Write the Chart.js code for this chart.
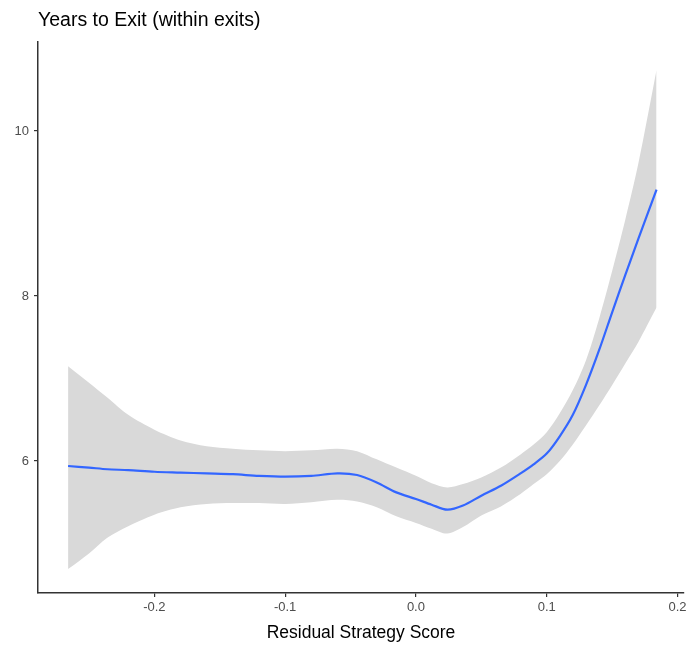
<!DOCTYPE html>
<html>
<head>
<meta charset="utf-8">
<script src="https://cdn.jsdelivr.net/npm/chart.js@4"></script>
<style>
  html, body { margin: 0; padding: 0; background: #fff; }
  #wrap { width: 692px; height: 646px; }
</style>
</head>
<body>
<div id="wrap"><canvas id="exitChart"></canvas></div>
<script>
// residual strategy score (x) and the loess fit with its 95% band
const scores = [-0.266, -0.25, -0.236, -0.22, -0.2, -0.18, -0.16, -0.14, -0.12, -0.10, -0.08, -0.06, -0.045, -0.03, -0.015, 0.0, 0.012, 0.024, 0.036, 0.05, 0.065, 0.08, 0.09, 0.10, 0.11, 0.12, 0.13, 0.14, 0.15, 0.16, 0.17, 0.184];
const fitYears = [5.94, 5.92, 5.90, 5.89, 5.87, 5.86, 5.85, 5.84, 5.82, 5.81, 5.82, 5.85, 5.83, 5.74, 5.62, 5.54, 5.47, 5.41, 5.46, 5.58, 5.70, 5.85, 5.96, 6.09, 6.30, 6.56, 6.92, 7.34, 7.80, 8.25, 8.69, 9.29];
const upperYears = [7.15, 6.95, 6.77, 6.56, 6.38, 6.25, 6.18, 6.15, 6.13, 6.12, 6.13, 6.15, 6.12, 6.02, 5.92, 5.82, 5.73, 5.68, 5.72, 5.80, 5.92, 6.08, 6.20, 6.35, 6.58, 6.86, 7.22, 7.72, 8.30, 8.92, 9.60, 10.74];
const lowerYears = [4.69, 4.88, 5.07, 5.21, 5.35, 5.44, 5.48, 5.49, 5.49, 5.48, 5.50, 5.53, 5.51, 5.44, 5.33, 5.25, 5.18, 5.12, 5.20, 5.34, 5.45, 5.60, 5.72, 5.84, 6.00, 6.20, 6.43, 6.67, 6.92, 7.18, 7.44, 7.86];

const xTicks = [-0.2, -0.1, 0.0, 0.1, 0.2];
const xTickLabels = ['-0.2', '-0.1', '0.0', '0.1', '0.2'];
const yTicks = [6, 8, 10];

const pts = (ys) => scores.map((x, i) => ({ x: x, y: ys[i] }));

const axisColor = '#333333';
const tickText = '#4d4d4d';
const fontFam = '"Liberation Sans", Arial, sans-serif';

// title drawn flush with the plot's left edge, like ggplot
const plotTitle = {
    id: 'plotTitle',
    afterDraw(chart) {
        const c = chart.ctx;
        c.save();
        c.fillStyle = '#000';
        c.font = '19.5px ' + fontFam;
        c.textBaseline = 'middle';
        c.textAlign = 'left';
        c.fillText('Years to Exit (within exits)', chart.chartArea.left, 21);
        c.restore();
    }
};

new Chart(document.getElementById('exitChart').getContext('2d'), {
    type: 'scatter',
    data: {
        datasets: [{
            label: 'fit',
            data: pts(fitYears),
            showLine: true,
            borderColor: '#3366ff',
            borderWidth: 2.2,
            pointRadius: 0,
            tension: 0.3,
            fill: false
        }, {
            label: 'upper',
            data: pts(upperYears),
            showLine: true,
            borderWidth: 0,
            borderColor: 'rgba(0,0,0,0)',
            pointRadius: 0,
            tension: 0.3,
            fill: false
        }, {
            label: 'lower',
            data: pts(lowerYears),
            showLine: true,
            borderWidth: 0,
            borderColor: 'rgba(0,0,0,0)',
            backgroundColor: '#d9d9d9',
            pointRadius: 0,
            tension: 0.3,
            fill: '-1'
        }]
    },
    options: {
        responsive: true,
        maintainAspectRatio: false,
        animation: false,
        layout: { padding: { top: 42, right: 8, bottom: 0, left: 0 } },
        plugins: {
            legend: { display: false },
            tooltip: { enabled: false }
        },
        scales: {
            x: {
                type: 'linear',
                min: -0.289,
                max: 0.205,
                afterFit(scale) { scale.height = 53; },
                afterBuildTicks(scale) { scale.ticks = xTicks.map(v => ({ value: v })); },
                border: { display: true, color: axisColor, width: 1.5 },
                grid: { drawOnChartArea: false, drawTicks: true, tickLength: 4, color: axisColor, lineWidth: 1.2 },
                ticks: {
                    color: tickText,
                    font: { size: 13, family: fontFam },
                    padding: 3,
                    maxRotation: 0,
                    callback: (v, i) => xTickLabels[i]
                },
                title: {
                    display: true,
                    text: 'Residual Strategy Score',
                    color: '#000',
                    font: { size: 17.5, family: fontFam },
                    padding: { top: 4, bottom: 2 }
                }
            },
            y: {
                type: 'linear',
                min: 4.40,
                max: 11.08,
                afterFit(scale) { scale.width = 38; },
                afterBuildTicks(scale) { scale.ticks = yTicks.map(v => ({ value: v })); },
                border: { display: true, color: axisColor, width: 1.5 },
                grid: { drawOnChartArea: false, drawTicks: true, tickLength: 4, color: axisColor, lineWidth: 1.2 },
                ticks: {
                    color: tickText,
                    font: { size: 13, family: fontFam },
                    padding: 5
                }
            }
        }
    },
    plugins: [plotTitle]
});
</script>
</body>
</html>
